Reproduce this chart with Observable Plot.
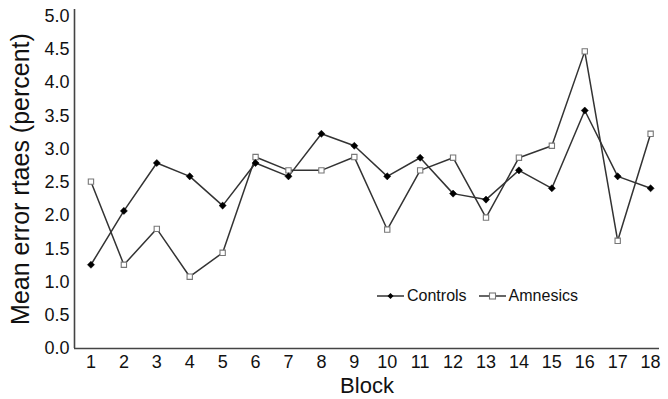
<!DOCTYPE html>
<html>
<head>
<meta charset="utf-8">
<script src="https://cdn.jsdelivr.net/npm/d3@7"></script>
<script src="https://cdn.jsdelivr.net/npm/@observablehq/plot@0.6"></script>
<style>
  body { margin: 0; background: #fff; }
  #wrap { position: relative; width: 668px; height: 399px; }
  g[aria-label="y-axis label"] text { font-size: 25px; }
  g[aria-label="x-axis label"] text { font-size: 22px; }
  #legend { position: absolute; left: 377px; top: 287px; display: flex; align-items: center;
    font-family: "Liberation Sans", Arial, sans-serif; font-size: 16px; color: #111; }
  #legend span.item { display: flex; align-items: center; margin-right: 2px; }
  #legend svg { display: block; }
</style>
</head>
<body>
<div id="wrap"></div>
<script>
const blocks = [1, 2, 3, 4, 5, 6, 7, 8, 9, 10, 11, 12, 13, 14, 15, 16, 17, 18];
const controls = [1.26, 2.07, 2.79, 2.59, 2.15, 2.79, 2.59, 3.23, 3.05, 2.59, 2.87, 2.33, 2.24, 2.68, 2.41, 3.58, 2.59, 2.41];
const amnesics = [2.51, 1.26, 1.80, 1.08, 1.44, 2.88, 2.68, 2.68, 2.88, 1.79, 2.68, 2.87, 1.97, 2.87, 3.05, 4.47, 1.62, 3.23];
const yTicks = [0, 0.5, 1, 1.5, 2, 2.5, 3, 3.5, 4, 4.5, 5];
const seriesNames = ["Controls", "Amnesics"];

const ctrl = blocks.map((b, i) => ({block: b, value: controls[i]}));
const amn = blocks.map((b, i) => ({block: b, value: amnesics[i]}));

const lineColor = "#333";
const chart = Plot.plot({
  width: 668,
  height: 399,
  marginLeft: 74,
  marginRight: 9,
  marginTop: 9,
  marginBottom: 51,
  style: {fontFamily: "'Liberation Sans', Arial, sans-serif", fontSize: "18px", color: "#111", background: "#fff"},
  x: {domain: [0.5, 18.27]},
  y: {domain: [0, 5.1]},
  marks: [
    Plot.axisX({ticks: blocks, tickSize: 0, tickPadding: 7, tickFormat: d => String(d),
      label: "Block", labelAnchor: "center", labelOffset: 44, labelArrow: "none"}),
    Plot.axisY({ticks: yTicks, tickSize: 0, tickPadding: 5, tickFormat: d3.format(".1f"),
      label: "Mean error rtaes (percent)", labelAnchor: "center", labelOffset: 63, labelArrow: "none"}),
    Plot.ruleY([0], {stroke: "#444", strokeWidth: 1.6}),
    Plot.ruleX([0.5], {stroke: "#444", strokeWidth: 1.6}),
    Plot.line(amn, {x: "block", y: "value", stroke: lineColor, strokeWidth: 1.5}),
    Plot.line(ctrl, {x: "block", y: "value", stroke: lineColor, strokeWidth: 1.5}),
    Plot.dot(amn, {x: "block", y: "value", symbol: "square", r: 3, fill: "#fff", stroke: "#777", strokeWidth: 1.1}),
    Plot.dot(ctrl, {x: "block", y: "value", symbol: "diamond2", r: 3.2, fill: "#000", stroke: "#000", strokeWidth: 0.5})
  ]
});
const wrap = document.getElementById("wrap");
wrap.appendChild(chart);

const legend = document.createElement("div");
legend.id = "legend";
const symSvg = (kind) => {
  const s = kind === "Controls"
    ? `<path d="M13.5,3 L16.5,6 L13.5,9 L10.5,6 Z" fill="#000"/>`
    : `<rect x="10.5" y="3" width="6" height="6" fill="#fff" stroke="#777" stroke-width="1.1"/>`;
  return `<svg width="27" height="12" viewBox="0 0 27 12"><line x1="0" y1="6" x2="27" y2="6" stroke="${lineColor}" stroke-width="1.5"/>${s}</svg>`;
};
legend.innerHTML = seriesNames.map((n, i) =>
  `<span class="item" style="margin-left:${i ? 10 : 0}px">${symSvg(n)}<span style="margin-left:3px">${n}</span></span>`).join("");
wrap.appendChild(legend);
</script>
</body>
</html>
